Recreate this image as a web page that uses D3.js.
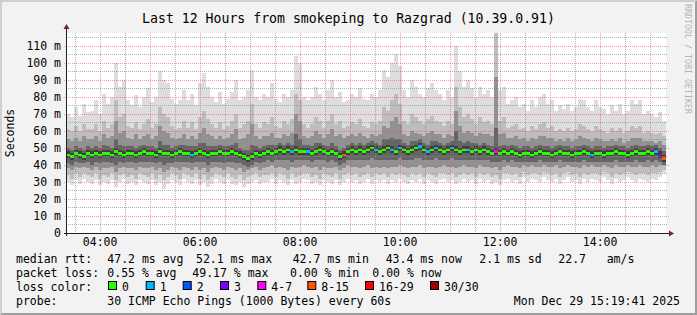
<!DOCTYPE html>
<html><head><meta charset="utf-8">
<script src="https://cdn.jsdelivr.net/npm/d3@7"></script>
<style>
html,body{margin:0;padding:0;background:#f2f2f2;}
svg{display:block;}
text{font-family:"DejaVu Sans Mono",monospace;fill:#000;}
</style>
</head><body>
<svg id="chart" width="697" height="315"></svg>
<script>
// ---------------- DATA ----------------
const titleText = "Last 12 Hours from smokeping to Razgrad (10.39.0.91)";
const startTime = new Date(2025, 11, 29, 3, 19, 41);
const endTime = new Date(2025, 11, 29, 15, 19, 41);

// median RTT per time bin (ms)
const medianMs = [
46,45,47,46,45,47,46,47,46,47, 47,46,48,47,46,47,47,46,47,48,
47,47,46,48,47,47,46,47,48,47, 47,46,47,48,47,46,47,47,48,47,
47,48,47,46,45,44,45,47,46,47, 48,47,48,49,48,49,48,49,48,48,
48,47,48,49,48,47,48,47,45,46, 48,49,48,49,48,49,50,49,48,49,
50,49,48,50,49,48,49,50,51,49, 48,49,50,49,48,49,50,49,48,49,
49,48,49,48,49,48,47,48,47,48, 47,48,47,46,47,47,46,47,48,47,
47,46,47,48,47,47,46,47,47,48, 47,46,47,47,46,47,47,48,47,47,
46,47,48,47,47,48,47,48,46,44];
// lost pings per bin (of 30)
const lossCount = [
0,0,0,0,0,0,0,0,0,0, 0,0,0,0,0,0,0,0,0,0,
0,0,0,0,0,0,0,0,0,0, 0,1,0,0,0,0,0,0,0,0,
0,0,0,0,0,0,0,0,0,0, 0,0,0,0,0,0,1,0,0,0,
1,0,0,0,0,0,0,0,0,10, 0,0,0,0,0,0,0,1,0,0,
0,1,0,1,0,0,0,0,1,0, 1,0,1,0,0,0,1,0,0,0,
1,0,0,0,0,0,0,5,0,0, 0,0,0,0,0,0,0,0,0,0,
0,0,0,0,0,0,0,0,0,0, 0,1,0,0,0,0,0,0,0,0,
0,0,0,0,0,0,0,1,3,10];
// smoke pair 1 (ping 1 / ping 30)
const smokeHi1 = [
70,68,74,69,76,71,72,78,70,82, 76,80,100,86,90,78,75,81,74,80,
85,77,80,95,90,88,79,76,78,84, 78,82,75,88,94,86,80,77,83,76,
79,83,90,78,80,84,96,80,78,82, 80,88,79,77,82,80,84,104,100,80,
78,80,86,82,78,84,90,80,83,77, 78,82,80,85,79,78,82,80,84,96,
92,100,105,98,84,80,90,86,82,80, 85,88,84,82,78,84,80,110,95,86,
90,85,80,86,82,84,80,118,84,86, 76,78,80,74,76,72,78,74,80,82,
76,78,72,75,73,76,72,74,79,78, 74,72,78,74,73,70,75,72,76,70,
72,78,76,78,70,72,70,68,71,66];
const smokeLo1 = [
30,28,31,29,32,30,29,31,28,30, 29,31,27,30,32,29,30,28,31,30,
29,31,28,30,26,29,31,30,28,32, 30,29,31,28,30,27,29,32,30,29,
31,29,28,30,27,29,30,31,29,30, 30,32,29,31,30,28,31,29,30,32,
31,29,30,28,31,30,29,31,28,30, 32,30,31,29,30,32,29,31,30,31,
29,31,30,32,30,29,31,30,32,29, 31,30,29,31,32,30,31,29,30,32,
30,31,29,32,30,31,29,30,28,31, 32,30,31,29,33,30,32,31,30,33,
31,30,32,29,31,33,30,31,29,32, 30,32,31,30,33,31,29,32,30,31,
33,31,30,32,31,30,32,31,33,35];
// smoke pair 3 (ping 3 / ping 28)
const smokeHi2 = [
61,60,63,60,64,61,61,64,60,66, 62,64,78,68,70,63,62,65,61,64,
67,62,64,74,70,68,63,61,62,66, 62,65,61,68,72,67,64,62,65,61,
63,66,70,62,64,66,76,64,62,65, 64,68,63,62,66,64,67,82,78,64,
62,64,68,66,62,66,70,64,66,62, 63,65,64,67,63,62,65,64,66,74,
72,78,82,76,66,64,70,68,66,64, 67,69,66,65,63,66,64,86,74,68,
70,67,64,68,65,66,64,118,66,68, 62,63,64,61,62,60,63,61,64,65,
62,63,60,61,60,62,60,61,64,63, 61,60,63,61,60,59,62,60,62,59,
60,63,62,63,59,60,59,58,59,57];
const smokeLo2 = [
34,32,35,33,35,34,33,35,32,34, 33,35,31,34,35,33,34,32,35,34,
33,35,32,34,31,33,35,34,32,35, 34,33,35,32,34,31,33,35,34,33,
35,33,32,34,31,33,34,35,33,34, 34,35,33,35,34,32,35,33,34,35,
35,33,34,32,35,34,33,35,32,34, 35,34,35,33,34,35,33,35,34,35,
33,35,34,35,34,33,35,34,35,33, 35,34,33,35,35,34,35,33,34,35,
34,35,33,35,34,35,33,34,32,35, 35,34,35,33,36,34,35,35,34,36,
35,34,35,33,35,36,34,35,33,35, 34,35,35,34,36,35,33,35,34,35,
36,35,34,35,35,34,35,35,36,37];
// smoke pair 6 (ping 6 / ping 25)
const smokeHi3 = [
55,54,56,54,57,55,55,57,54,58, 56,57,66,59,60,56,55,58,55,57,
58,55,57,63,60,59,56,55,56,58, 55,57,55,59,62,58,57,55,57,55,
56,58,61,55,56,58,64,57,55,57, 57,59,56,56,58,57,59,70,66,57,
56,57,60,58,56,58,61,57,58,56, 57,58,57,59,57,56,58,57,58,63,
62,66,68,64,58,57,60,59,58,57, 59,60,58,58,56,58,57,72,63,59,
60,59,57,59,58,58,57,92,58,59, 56,56,57,55,56,54,56,55,57,57,
56,56,54,55,54,56,54,55,57,56, 55,54,56,55,54,54,55,54,56,53,
54,56,56,56,54,54,54,53,54,52];
const smokeLo3 = [
38,37,39,38,39,38,37,39,37,38, 38,39,36,38,39,38,38,37,39,38,
38,39,37,38,36,37,39,38,37,39, 38,37,39,37,38,36,38,39,38,37,
39,38,37,38,36,37,38,39,37,38, 39,40,38,39,38,37,39,38,39,40,
39,38,39,37,39,38,38,39,37,38, 40,39,39,38,39,40,38,39,38,39,
38,39,39,40,39,38,39,39,40,38, 39,39,38,39,40,39,39,38,39,40,
39,39,38,40,39,39,38,39,37,39, 40,39,39,38,40,39,40,39,39,40,
39,39,40,38,39,40,39,39,38,40, 39,40,39,39,40,39,38,40,39,39,
40,39,39,40,39,39,40,39,40,41];
// smoke pair 10 (ping 10 / ping 21)
const smokeHi4 = [
50,49,51,50,49,51,50,51,50,52, 51,50,55,52,51,51,51,50,51,52,
51,51,50,54,52,52,50,51,52,52, 51,51,51,53,53,51,51,51,52,51,
51,52,53,50,49,49,52,51,50,51, 52,52,52,53,52,53,52,58,55,52,
52,51,53,53,52,51,53,51,49,50, 52,53,52,53,52,53,54,53,52,55,
55,56,55,55,53,52,54,54,55,53, 52,54,54,53,52,53,54,60,54,53,
54,53,53,52,53,52,51,62,51,52, 51,52,51,50,51,51,50,51,52,51,
51,50,51,52,51,51,50,51,51,52, 51,50,51,51,50,51,51,52,51,51,
50,51,52,51,51,52,51,52,50,48];
const smokeLo4 = [
41,40,42,41,41,42,40,42,41,42, 42,41,40,42,41,42,42,41,42,42,
42,42,41,42,40,41,41,42,42,42, 42,41,42,42,42,40,42,42,42,41,
42,42,41,41,40,39,40,42,41,42, 43,42,43,43,43,43,42,43,43,43,
43,42,43,43,43,42,43,42,40,41, 43,43,43,43,43,43,44,43,43,43,
43,43,43,44,43,43,43,44,44,43, 43,43,44,43,43,43,44,43,43,43,
43,43,43,43,43,43,42,42,42,43, 42,43,42,42,42,42,42,42,43,42,
42,42,42,43,42,42,42,42,42,43, 42,42,42,42,42,42,42,43,42,42,
42,42,43,42,42,43,42,43,42,40];
// smoke pair 13 (ping 13 / ping 18)
const smokeHi5 = [
48,47,49,48,47,49,48,49,48,49, 49,48,50,49,48,49,49,48,49,50,
49,49,48,50,49,49,48,49,50,49, 49,48,49,50,49,48,49,49,50,49,
49,50,49,48,47,46,47,49,48,49, 50,49,50,51,50,51,50,51,50,50,
50,49,50,51,50,49,50,49,47,48, 50,51,50,51,50,51,52,51,50,51,
52,51,50,52,51,50,51,52,53,51, 50,51,52,51,50,51,52,51,50,51,
51,50,51,50,51,50,49,50,49,50, 49,50,49,48,49,49,48,49,50,49,
49,48,49,50,49,49,48,49,49,50, 49,48,49,49,48,49,49,50,49,49,
48,49,50,49,49,50,49,50,48,46];
const smokeLo5 = [
44,43,45,44,43,45,44,45,44,45, 45,44,46,45,44,45,45,44,45,46,
45,45,44,46,45,45,44,45,46,45, 45,44,45,46,45,44,45,45,46,45,
45,46,45,44,43,42,43,45,44,45, 46,45,46,47,46,47,46,47,46,46,
46,45,46,47,46,45,46,45,43,44, 46,47,46,47,46,47,48,47,46,47,
48,47,46,48,47,46,47,48,49,47, 46,47,48,47,46,47,48,47,46,47,
47,46,47,46,47,46,45,46,45,46, 45,46,45,44,45,45,44,45,46,45,
45,44,45,46,45,45,44,45,45,46, 45,44,45,45,44,45,45,46,45,45,
44,45,46,45,45,46,45,46,44,42];

const yTicksMs = [0,10,20,30,40,50,60,70,80,90,100,110];
const yMinorMs = [5,15,25,35,45,55,65,75,85,95,105,115];
const xLabelHours = [4,6,8,10,12,14];
const lossLabels = ["0","1","2","3","4-7","8-15","16-29","30/30"];
const lossColors = ["#26ff00","#00b8ff","#0059ff","#7e00ff","#ff00ff","#ff5500","#ff0000","#a10000"];
const rttLabels = ["47.2 ms avg","52.1 ms max","42.7 ms min","43.4 ms now","2.1 ms sd","22.7","am/s"];
const lossStatLabels = ["0.55 % avg","49.17 % max","0.00 % min","0.00 % now"];
const probeText = "30 ICMP Echo Pings (1000 Bytes) every 60s";
const dateText = "Mon Dec 29 15:19:41 2025";
const yMaxMs = 117.6;

// ---------------- DRAW ----------------
const W = 697, H = 315;
const L = 66, R = 666, T = 33, B = 233;
const svg = d3.select("#chart");

svg.append("rect").attr("width", W).attr("height", H).attr("fill", "#f2f2f2");
svg.append("path").attr("d", `M0,0H${W}L${W-2},2H2V${H-2}L0,${H}Z`).attr("fill", "#cfcfcf");
svg.append("path").attr("d", `M${W},0V${H}H0L2,${H-2}H${W-2}V2Z`).attr("fill", "#9e9e9e");

const x = d3.scaleTime().domain([startTime, endTime]).range([L, R]);
const y = d3.scaleLinear().domain([0, yMaxMs / 1000]).range([B, T]);

svg.append("rect").attr("x", L).attr("y", T).attr("width", R - L).attr("height", B - T).attr("fill", "#fff");
svg.append("defs").append("clipPath").attr("id", "plotclip")
  .append("rect").attr("x", L).attr("y", T).attr("width", R - L).attr("height", B - T);

const n = medianMs.length;
const binEdges = d3.range(n + 1).map(i => new Date(+startTime + i * (endTime - startTime) / n));
const plot = svg.append("g").attr("clip-path", "url(#plotclip)");

const bands = [
  [smokeLo1, smokeHi1, "#dddddd"],
  [smokeLo2, smokeHi2, "#bdbdbd"],
  [smokeLo3, smokeHi3, "#919191"],
  [smokeLo4, smokeHi4, "#656565"],
  [smokeLo5, smokeHi5, "#3f3f3f"]
];
bands.forEach(([lo, hi, col]) => {
  plot.append("g").selectAll("rect").data(d3.range(n)).join("rect")
    .attr("x", i => x(binEdges[i]))
    .attr("width", i => x(binEdges[i + 1]) - x(binEdges[i]))
    .attr("y", i => y(hi[i] / 1000))
    .attr("height", i => y(lo[i] / 1000) - y(hi[i] / 1000))
    .attr("fill", col).attr("shape-rendering", "crispEdges");
});

function lossIdx(c) {
  if (c <= 3) return c;
  if (c <= 7) return 4;
  if (c <= 15) return 5;
  if (c <= 29) return 6;
  return 7;
}
plot.append("g").selectAll("rect").data(d3.range(n)).join("rect")
  .attr("x", i => x(binEdges[i]))
  .attr("width", i => x(binEdges[i + 1]) - x(binEdges[i]))
  .attr("y", i => y(medianMs[i] / 1000) - 1)
  .attr("height", 2.5)
  .attr("fill", i => lossColors[lossIdx(lossCount[i])])
  .attr("shape-rendering", "crispEdges");

// grid (dotted, drawn over the data like rrdtool)
const grid = svg.append("g");
const minorCol = "rgba(143,143,143,0.7)", majorCol = "rgba(222,79,79,0.55)";
function gline(x1, y1, x2, y2, col) {
  grid.append("line").attr("x1", x1).attr("y1", y1).attr("x2", x2).attr("y2", y2)
    .attr("stroke", col).attr("stroke-width", 1).attr("stroke-dasharray", "1 1")
    .attr("shape-rendering", "crispEdges");
}
yMinorMs.forEach(v => {
  if (v > yMaxMs) return;
  const yy = Math.round(y(v / 1000)) + 0.5;
  gline(L, yy, R + 1, yy, minorCol);
});
yTicksMs.forEach(v => {
  if (v === 0) return;
  const yy = Math.round(y(v / 1000)) + 0.5;
  gline(L - 2, yy, R + 3, yy, majorCol);
});
d3.timeMinute.every(30).range(startTime, endTime).forEach(tm => {
  const xx = Math.round(x(tm)) + 0.5;
  const major = tm.getMinutes() === 0;
  gline(xx, T, xx, major ? B + 2 : B, major ? majorCol : minorCol);
});

// axes
const axisCol = "#1f1f1f", arrowCol = "#801f1f";
svg.append("line").attr("x1", L - 2).attr("x2", R + 3).attr("y1", B + 0.5).attr("y2", B + 0.5).attr("stroke", axisCol);
svg.append("line").attr("x1", L + 0.5).attr("x2", L + 0.5).attr("y1", B + 3).attr("y2", T - 4).attr("stroke", axisCol);
svg.append("path").attr("d", `M${R+3},${B-2.5}L${R+8},${B+0.5}L${R+3},${B+3.5}Z`).attr("fill", arrowCol);
svg.append("path").attr("d", `M${L-2.5},${T-4}L${L+0.5},${T-9}L${L+3.5},${T-4}Z`).attr("fill", arrowCol);

const yAxis = d3.axisLeft(y).tickValues(yTicksMs.map(v => v / 1000))
  .tickFormat(v => v === 0 ? "0" : Math.round(v * 1000) + " m").tickSize(0).tickPadding(0);
const ya = svg.append("g").attr("transform", `translate(${L - 5},0)`).call(yAxis);
ya.select(".domain").remove();
ya.selectAll("text").attr("font-family", "DejaVu Sans Mono").attr("font-size", "11.5px").attr("fill", "#000");

const xAxis = d3.axisBottom(x).tickValues(xLabelHours.map(h => new Date(2025, 11, 29, h, 0, 0)))
  .tickFormat(d3.timeFormat("%H:%M")).tickSize(0).tickPadding(0);
const xa = svg.append("g").attr("transform", `translate(0,${B + 5})`).call(xAxis);
xa.select(".domain").remove();
xa.selectAll("text").attr("font-family", "DejaVu Sans Mono").attr("font-size", "11.5px").attr("fill", "#000");

svg.append("text").attr("x", 348.5).attr("y", 23).attr("text-anchor", "middle")
  .attr("font-size", "13.2px").text(titleText);

svg.append("text").attr("transform", "translate(14,133) rotate(-90)").attr("text-anchor", "middle")
  .attr("font-family", "DejaVu Sans").attr("font-size", "11.5px").text("Seconds");

svg.append("text").attr("transform", "translate(685,4) rotate(90)")
  .attr("font-size", "8.3px").style("fill", "#b4b4b4").text("RRDTOOL / TOBI OETIKER");

// legend
const lg = svg.append("g").attr("font-size", "11.5px").style("white-space", "pre");
function t(xp, yp, s, anchor) {
  lg.append("text").attr("x", xp).attr("y", yp).attr("text-anchor", anchor || "start").text(s);
}
const r1 = 263, r2 = 277, r3 = 291, r4 = 305;
t(16, r1, "median rtt:");
[107.3, 196, 292.7, 385.7, 479.3, 558.3, 606.7].forEach((xp, i) => t(xp, r1, rttLabels[i]));
t(16, r2, "packet loss:");
[107.3, 192.3, 290, 372.3].forEach((xp, i) => t(xp, r2, lossStatLabels[i]));
t(16, r3, "loss color:");
const swX = [108, 145.7, 182.7, 220, 257.3, 307.3, 365, 430];
lossLabels.forEach((lab, i) => {
  lg.append("rect").attr("x", swX[i] + 0.5).attr("y", r3 - 9.5).attr("width", 8).attr("height", 8)
    .attr("fill", lossColors[i]).attr("stroke", "#000").attr("stroke-width", 1);
  t(swX[i] + 14, r3, lab);
});
t(16, r4, "probe:");
t(107.3, r4, probeText);
t(680, r4, dateText, "end");
</script>
</body></html>
